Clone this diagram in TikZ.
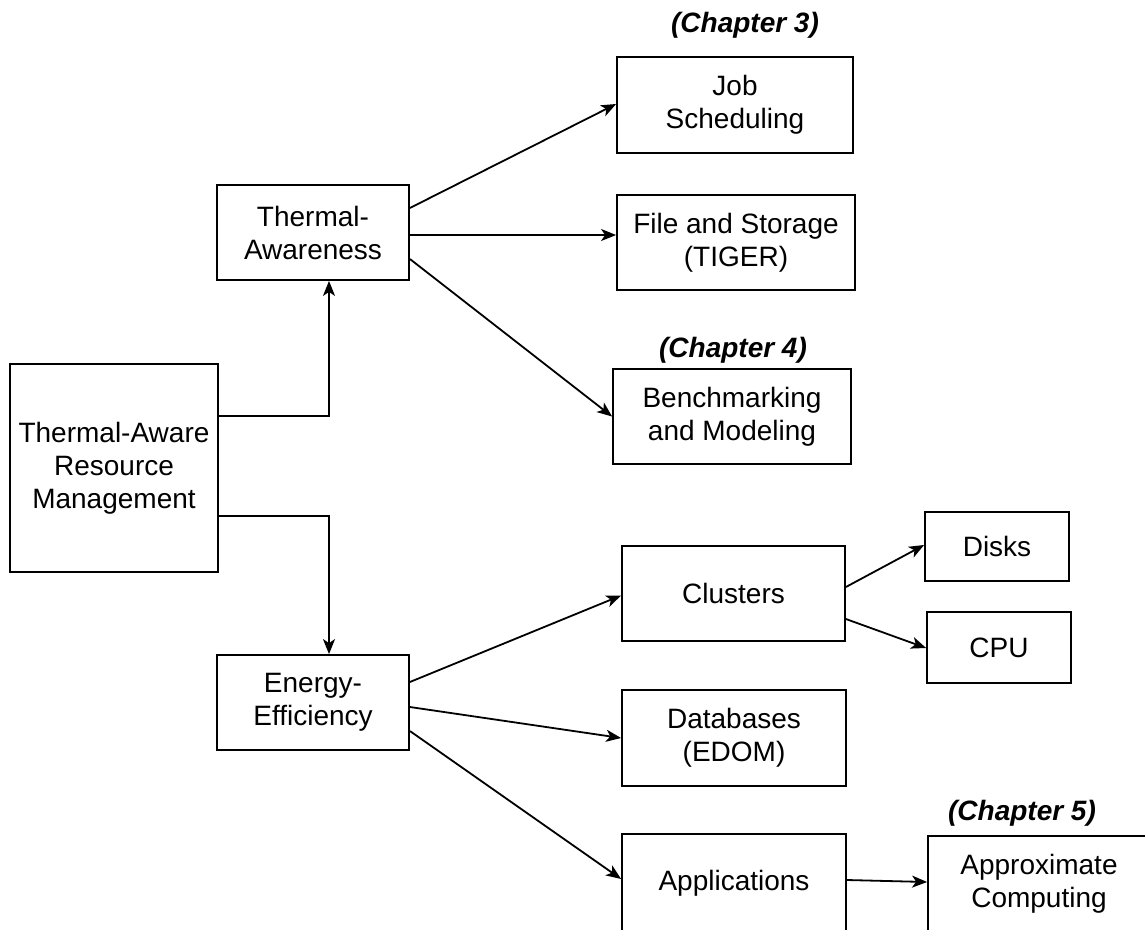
\documentclass[tikz,border=0pt]{standalone}
\usepackage{fontspec}
\setmainfont{Liberation Sans}
\usetikzlibrary{arrows.meta}
\begin{document}
\begin{tikzpicture}[x=1pt,y=-1pt,
  box/.style={draw, line width=1.8pt, align=center, inner sep=0pt,
    font=\fontsize{28}{33}\selectfont},
  chap/.style={anchor=base, font=\fontsize{28}{33}\selectfont\bfseries\itshape},
  conn/.style={line width=1.8pt, -{Stealth[length=15pt,width=12pt,inset=4pt]}}]
\useasboundingbox (0,0) rectangle (1145,929);
\clip (0,0) rectangle (1145,929);
% boxes
\node[box, minimum width=208pt, minimum height=208pt] (tarm) at (114,468) {Thermal-Aware\\Resource\\Management};
\node[box, minimum width=192pt, minimum height=95pt] (ta) at (313,232.5) {Thermal-\\Awareness};
\node[box, minimum width=236pt, minimum height=96pt] (job) at (735,105) {Job\\Scheduling};
\node[box, minimum width=238pt, minimum height=95pt] (file) at (736,242.5) {File and Storage\\(TIGER)};
\node[box, minimum width=238pt, minimum height=95pt] (bench) at (732,416.5) {Benchmarking\\and Modeling};
\node[box, minimum width=192pt, minimum height=95pt] (ee) at (313,702.5) {Energy-\\Efficiency};
\node[box, minimum width=223pt, minimum height=95pt] (clus) at (733.5,593.5) {Clusters};
\node[box, minimum width=144pt, minimum height=69pt] (disks) at (997,546.5) {Disks};
\node[box, minimum width=144pt, minimum height=71pt] (cpu) at (999,647.5) {CPU};
\node[box, minimum width=224pt, minimum height=96pt] (db) at (734,738) {Databases\\(EDOM)};
\node[box, minimum width=224pt, minimum height=98pt] (app) at (734,883) {Applications};
\node[box, minimum width=222pt, minimum height=96pt] (approx) at (1039,884) {Approximate\\Computing};
% chapter labels
\node[chap] (c3) at (745,32) {(Chapter 3)};
\node[chap] (c4) at (733,357) {(Chapter 4)};
\node[chap] (c5) at (1022,820) {(Chapter 5)};
% connectors
\draw[conn] ([yshift=52pt]tarm.east) -| ([xshift=16pt]ta.south);
\draw[conn] ([yshift=-48pt]tarm.east) -| ([xshift=16pt]ee.north);
\draw[conn] ([yshift=24.5pt]ta.east) -- ([yshift=1pt]job.west);
\draw[conn] ([yshift=-2.5pt]ta.east) -- ([yshift=7.5pt]file.west);
\draw[conn] ([yshift=-26.5pt]ta.east) -- (bench.west);
\draw[conn] ([yshift=20.5pt]ee.east) -- ([yshift=-2pt]clus.west);
\draw[conn] ([yshift=-4.5pt]ee.east) -- (db.west);
\draw[conn] ([yshift=-28.5pt]ee.east) -- ([yshift=4pt]app.west);
\draw[conn] ([yshift=6.5pt]clus.east) -- ([yshift=1.5pt]disks.west);
\draw[conn] ([yshift=-25.5pt]clus.east) -- ([yshift=-0.5pt]cpu.west);
\draw[conn] ([yshift=3pt]app.east) -- ([yshift=2pt]approx.west);
\end{tikzpicture}
\end{document}
